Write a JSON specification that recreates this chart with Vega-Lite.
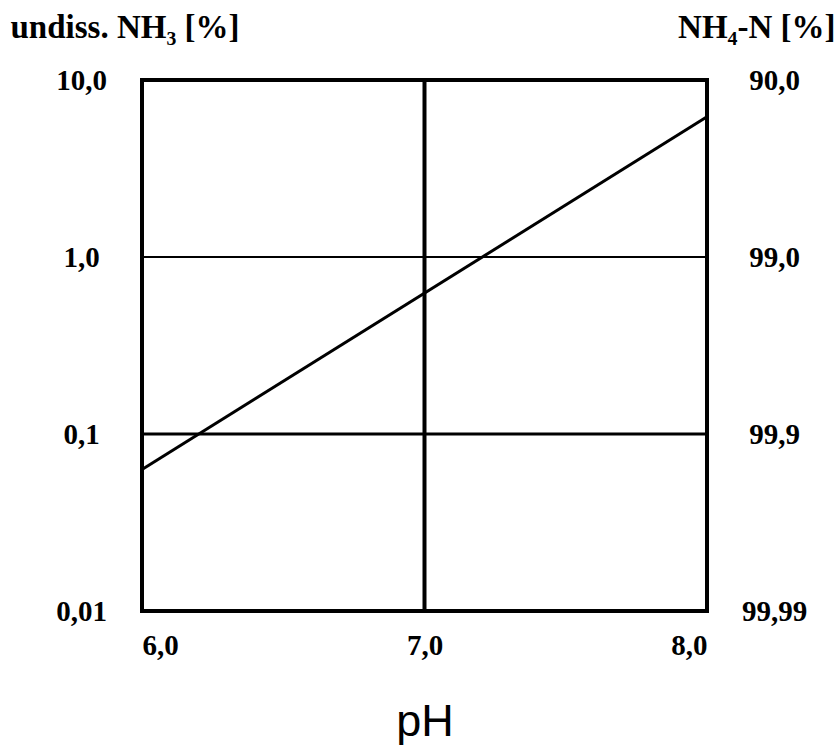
{
  "$schema": "https://vega.github.io/schema/vega-lite/v6.json",
  "width": 565,
  "height": 531,
  "autosize": {"type": "none"},
  "padding": {"left": 142, "top": 80, "right": 132, "bottom": 144},
  "background": "white",
  "config": {
    "view": {"stroke": "black", "strokeWidth": 4},
    "axis": {"labelFont": "Liberation Serif", "labelFontWeight": "bold", "labelFontSize": 29, "labelColor": "black", "titleColor": "black", "domain": false, "ticks": false, "grid": false}
  },
  "datasets": {
    "curve": [{"pH": 6.0, "nh3": 0.063}, {"pH": 8.0, "nh3": 6.2}],
    "hgrid": [{"v": 1.0, "w": 2}, {"v": 0.1, "w": 3}],
    "vgrid": [{"p": 7.0}]
  },
  "layer": [
    {
      "data": {"name": "hgrid"},
      "mark": {"type": "rule", "color": "black"},
      "encoding": {
        "y": {"field": "v", "type": "quantitative", "scale": {"type": "log", "domain": [0.01, 10]},
          "axis": {"orient": "left", "values": [0.01, 0.1, 1, 10], "labelPadding": 61, "labelAlign": "center",
            "labelExpr": "datum.value >= 5 ? '10,0' : datum.value >= 0.5 ? '1,0' : datum.value >= 0.05 ? '0,1' : '0,01'",
            "title": "undiss. NH₃ [%]", "titleAngle": 0, "titleAlign": "left", "titleBaseline": "middle", "titleX": -132, "titleY": -53,
            "titleFont": "Liberation Serif", "titleFontWeight": "bold", "titleFontSize": 33}},
        "strokeWidth": {"field": "w", "type": "quantitative", "scale": null, "legend": null}
      }
    },
    {
      "data": {"name": "vgrid"},
      "mark": {"type": "rule", "color": "black", "strokeWidth": 4},
      "encoding": {
        "x": {"field": "p", "type": "quantitative", "scale": {"domain": [6, 8]},
          "axis": {"values": [6, 7, 8], "labelPadding": 20, "labelExpr": "replace(format(datum.value, '.1f'), '.', ',')",
            "title": "pH", "titleFont": "Liberation Sans", "titleFontWeight": "normal", "titleFontSize": 45, "titleBaseline": "middle", "titleY": 110}}
      }
    },
    {
      "data": {"name": "curve"},
      "mark": {"type": "line", "color": "black", "strokeWidth": 3, "clip": true},
      "encoding": {
        "x": {"field": "pH", "type": "quantitative"},
        "y": {"field": "nh3", "type": "quantitative",
          "axis": {"orient": "right", "values": [0.01, 0.1, 1, 10], "labelPadding": 67, "labelAlign": "center",
            "labelExpr": "datum.value >= 5 ? '90,0' : datum.value >= 0.5 ? '99,0' : datum.value >= 0.05 ? '99,9' : '99,99'",
            "title": "NH₄-N [%]", "titleAngle": 0, "titleAlign": "right", "titleBaseline": "middle", "titleX": 128, "titleY": -53,
            "titleFont": "Liberation Serif", "titleFontWeight": "bold", "titleFontSize": 33}}
      }
    }
  ],
  "resolve": {"axis": {"y": "independent"}}
}
